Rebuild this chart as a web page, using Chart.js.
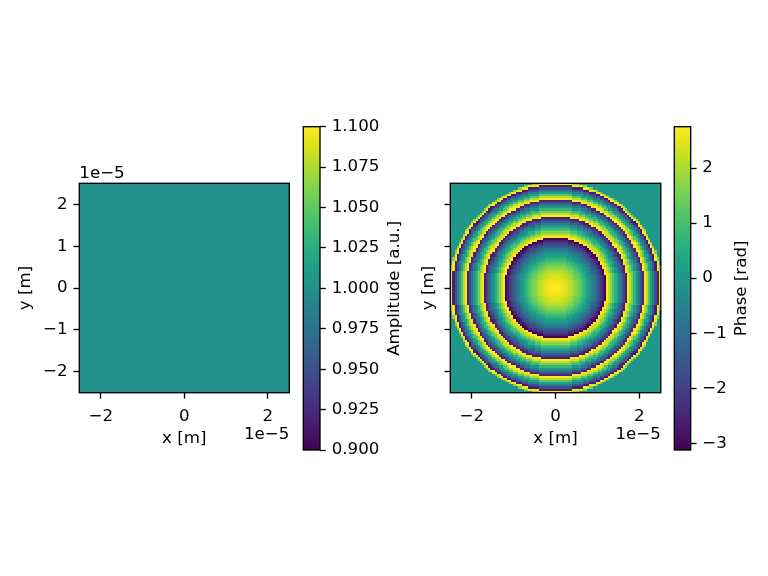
<!DOCTYPE html>
<html><head><meta charset="utf-8">
<script src="https://cdn.jsdelivr.net/npm/chart.js@4.4.1/dist/chart.umd.min.js"></script>
<style>
html,body{margin:0;padding:0;background:#fff;}
#wrap{position:relative;width:768px;height:576px;overflow:hidden;background:#fff;}
#wrap canvas{position:absolute;left:0;top:0;}
</style></head><body>
<div id="wrap">
<canvas id="ampMap" width="768" height="576"></canvas>
<canvas id="ampBar" width="768" height="576"></canvas>
<canvas id="phaseMap" width="768" height="576"></canvas>
<canvas id="phaseBar" width="768" height="576"></canvas>
</div>
<script>
// ---------------- data ----------------
const gridSize = 100;                       // cells per side
const axisLimit = 2.515e-5;                 // axis half-range [m]
const xTickValues = [-2e-5, 0, 2e-5];
const yTickValues = [-2e-5, -1e-5, 0, 1e-5, 2e-5];

const amplitudeLevel = 1.0;                 // uniform amplitude [a.u.]
const amplitudeRange = [0.9, 1.1];
const amplitudeTicks = [0.900, 0.925, 0.950, 0.975, 1.000, 1.025, 1.050, 1.075, 1.100];

const phaseRange = [-3.12, 2.75];
const phaseTicks = [-3, -2, -1, 0, 1, 2];
const apertureRadius = 2.55e-5;             // [m]
const outsidePhase = 0;
// radial phase profile (radius in units of 1e-5 m, phase in rad)
const phaseProfileRadius = [0.00,0.05,0.10,0.15,0.20,0.25,0.30,0.35,0.40,0.45,
  0.50,0.55,0.60,0.65,0.70,0.75,0.80,0.85,0.90,0.95,
  1.00,1.05,1.10,1.15,1.20,1.25,1.30,1.35,1.40,1.45,
  1.50,1.55,1.60,1.65,1.70,1.75,1.80,1.85,1.90,1.95,
  2.00,2.05,2.10,2.15,2.20,2.25,2.30,2.35,2.40,2.45,
  2.50,2.55];
const phaseProfileValue = [2.75,2.74,2.71,2.66,2.59,2.50,2.39,2.26,2.10,1.93,
  1.74,1.53,1.30,1.05,0.77,0.48,0.17,-0.17,-0.52,-0.89,
  -1.29,-1.70,-2.13,-2.59,-3.06,2.73,2.21,1.68,1.12,0.55,
  -0.05,-0.66,-1.30,-1.95,-2.63,2.96,2.25,1.51,0.75,-0.02,
  -0.82,-1.64,-2.48,2.95,2.07,1.17,0.25,-0.68,-1.64,-2.62,
  2.66,1.64];

// ---------------- helpers ----------------
const FONT_FAMILY = "'DejaVu Sans', 'Liberation Sans', sans-serif";
const FONT_SIZE = 16.67;
const VIRIDIS = ['#440154','#471365','#482475','#463480','#414487','#3b528b','#355f8d',
  '#2f6c8e','#2a788e','#25848e','#21918c','#1e9c89','#22a884','#2fb47c','#44bf70',
  '#5ec962','#7ad151','#9bd93c','#bddf26','#dfe318','#fde725'];
const VIR_RGB = VIRIDIS.map(h => [parseInt(h.slice(1,3),16), parseInt(h.slice(3,5),16), parseInt(h.slice(5,7),16)]);
function viridis(t) {
  t = Math.max(0, Math.min(1, t));
  const p = t * (VIR_RGB.length - 1);
  const i = Math.min(Math.floor(p), VIR_RGB.length - 2);
  const f = p - i;
  const a = VIR_RGB[i], b = VIR_RGB[i + 1];
  return 'rgb(' + [0,1,2].map(k => Math.round(a[k] + (b[k] - a[k]) * f)).join(',') + ')';
}
const LUT = Array.from({length: 256}, (_, k) => viridis(k / 255));
function colorFor(v, vmin, vmax) {
  let idx = Math.floor((v - vmin) / (vmax - vmin) * 256);
  idx = Math.max(0, Math.min(255, idx));
  return LUT[idx];
}
function minus(s) { return String(s).replace('-', '\u2212'); }
function fmtE5(v) { return minus(Math.round(v / 1e-5)); }

// ---------------- build cell tables ----------------
const cellSize = 2 * axisLimit / gridSize;
function cellCentre(i) { return -axisLimit + (i + 0.5) * cellSize; }
function phaseAt(x, y) {
  const r = Math.hypot(x, y);
  if (r > apertureRadius) return outsidePhase;
  const rr = r / 1e-5;
  let best = 0, bestD = Infinity;
  for (let k = 0; k < phaseProfileRadius.length; k++) {
    const d = Math.abs(phaseProfileRadius[k] - rr);
    if (d < bestD) { bestD = d; best = k; }
  }
  return phaseProfileValue[best];
}
const amplitudeCells = [], phaseCells = [];
for (let j = 0; j < gridSize; j++) {
  for (let i = 0; i < gridSize; i++) {
    const x = cellCentre(i), y = cellCentre(j);
    amplitudeCells.push({x, y, v: amplitudeLevel});
    phaseCells.push({x, y, v: phaseAt(x, y)});
  }
}

// ---------------- plugins ----------------
function drawText(ctx, text, x, y, align, rotate) {
  ctx.save();
  ctx.font = FONT_SIZE + 'px ' + FONT_FAMILY;
  ctx.fillStyle = '#000';
  ctx.textAlign = align || 'left';
  ctx.textBaseline = 'alphabetic';
  ctx.translate(x, y);
  if (rotate) ctx.rotate(-Math.PI / 2);
  ctx.fillText(text, 0, 0);
  ctx.restore();
}
function heatmapPlugin(cfg) {
  return {
    id: 'heatmap',
    beforeDatasetsDraw(chart) {
      const xs = chart.scales.x, ys = chart.scales.y, ctx = chart.ctx;
      // pixel edges of the cell boundaries, shared by neighbouring cells
      const xEdge = [], yEdge = [];
      for (let k = 0; k <= gridSize; k++) {
        const e = -axisLimit + k * cellSize;
        xEdge.push(Math.round(xs.getPixelForValue(e)));
        yEdge.push(Math.round(ys.getPixelForValue(e)));
      }
      ctx.save();
      for (const p of chart.data.datasets[0].data) {
        const i = Math.round((p.x + axisLimit) / cellSize - 0.5);
        const j = Math.round((p.y + axisLimit) / cellSize - 0.5);
        ctx.fillStyle = colorFor(p.v, cfg.vmin, cfg.vmax);
        ctx.fillRect(xEdge[i], yEdge[j + 1], xEdge[i + 1] - xEdge[i], yEdge[j] - yEdge[j + 1]);
      }
      ctx.restore();
    },
    afterDraw(chart) {
      const a = chart.chartArea, ctx = chart.ctx;
      ctx.save();
      ctx.strokeStyle = '#000'; ctx.lineWidth = 1.33;
      ctx.strokeRect(a.left, a.top, a.right - a.left, a.bottom - a.top);
      ctx.restore();
      const cx = (a.left + a.right) / 2, cy = (a.top + a.bottom) / 2;
      drawText(ctx, 'x [m]', cx, a.bottom + 50, 'center');
      drawText(ctx, '1e\u22125', a.right, a.bottom + 46.5, 'right');
      drawText(ctx, 'y [m]', a.left - cfg.yTitleGap, cy, 'center', true);
      if (cfg.yOffset) drawText(ctx, '1e\u22125', a.left, a.top - 5, 'left');
    }
  };
}
function colorbarPlugin(cfg) {
  return {
    id: 'colorbar',
    beforeDatasetsDraw(chart) {
      const ys = chart.scales.y, a = chart.chartArea, ctx = chart.ctx;
      ctx.save();
      const edges = [];
      for (let k = 0; k <= 256; k++) {
        edges.push(Math.round(ys.getPixelForValue(cfg.vmin + (cfg.vmax - cfg.vmin) * k / 256)));
      }
      for (let k = 0; k < 256; k++) {
        if (edges[k] === edges[k + 1]) continue;
        ctx.fillStyle = LUT[k];
        ctx.fillRect(a.left, edges[k + 1], a.right - a.left, edges[k] - edges[k + 1]);
      }
      ctx.strokeStyle = '#000'; ctx.lineWidth = 1.33;
      ctx.strokeRect(a.left, a.top, a.right - a.left, a.bottom - a.top);
      ctx.restore();
    },
    afterDraw(chart) {
      const a = chart.chartArea;
      drawText(chart.ctx, cfg.title, a.right + cfg.titleGap, (a.top + a.bottom) / 2, 'center', true);
    }
  };
}

// ---------------- chart factories ----------------
Chart.defaults.font.family = FONT_FAMILY;
Chart.defaults.font.size = FONT_SIZE;
Chart.defaults.color = '#000';

const tickGrid = {drawOnChartArea: false, drawTicks: true, tickLength: 5.83, tickWidth: 1.33, tickColor: '#000'};

function heatmapChart(id, cells, vmin, vmax, area, showYLabels, yTitleGap, yOffset) {
  return new Chart(document.getElementById(id), {
    type: 'scatter',
    data: {datasets: [{data: cells, pointRadius: 0, pointHoverRadius: 0, pointHitRadius: 0}]},
    options: {
      animation: false, responsive: false, events: [],
      layout: {padding: {left: area.left - 40, right: 768 - area.right, top: area.top, bottom: 576 - area.bottom - 40}},
      plugins: {legend: {display: false}, tooltip: {enabled: false}},
      scales: {
        x: {
          type: 'linear', position: 'bottom', min: -axisLimit, max: axisLimit,
          afterBuildTicks: s => { s.ticks = xTickValues.map(v => ({value: v})); },
          afterFit: s => { s.height = 40; },
          ticks: {callback: v => fmtE5(v), padding: 8.5, maxRotation: 0, autoSkip: false, color: '#000'},
          grid: tickGrid, border: {display: false}
        },
        y: {
          type: 'linear', position: 'left', min: -axisLimit, max: axisLimit,
          afterBuildTicks: s => { s.ticks = yTickValues.map(v => ({value: v})); },
          afterFit: s => { s.width = 40; },
          ticks: {display: showYLabels, callback: v => fmtE5(v), padding: 5.83, autoSkip: false, color: '#000'},
          grid: tickGrid, border: {display: false}
        }
      }
    },
    plugins: [heatmapPlugin({vmin, vmax, yTitleGap, yOffset})]
  });
}
function colorbarChart(id, range, ticks, fmt, area, title, titleGap) {
  return new Chart(document.getElementById(id), {
    type: 'scatter',
    data: {datasets: [{data: [], pointRadius: 0}]},
    options: {
      animation: false, responsive: false, events: [],
      layout: {padding: {left: area.left, right: 768 - area.right - 60, top: area.top, bottom: 576 - area.bottom}},
      plugins: {legend: {display: false}, tooltip: {enabled: false}},
      scales: {
        x: {display: false, min: 0, max: 1},
        y: {
          type: 'linear', position: 'right', min: range[0], max: range[1],
          afterBuildTicks: s => { s.ticks = ticks.map(v => ({value: v})); },
          afterFit: s => { s.width = 60; },
          ticks: {callback: v => fmt(v), padding: 5.83, autoSkip: false, color: '#000'},
          grid: tickGrid, border: {display: false}
        }
      }
    },
    plugins: [colorbarPlugin({vmin: range[0], vmax: range[1], title, titleGap})]
  });
}

heatmapChart('ampMap', amplitudeCells, amplitudeRange[0], amplitudeRange[1],
  {left: 79.3, right: 289.3, top: 183.3, bottom: 392.7}, true, 49.5, true);
colorbarChart('ampBar', amplitudeRange, amplitudeTicks, v => v.toFixed(3),
  {left: 303.3, right: 320, top: 126.7, bottom: 450}, 'Amplitude [a.u.]', 78.5);
heatmapChart('phaseMap', phaseCells, phaseRange[0], phaseRange[1],
  {left: 450.3, right: 660.8, top: 183.3, bottom: 392.7}, false, 17.8, false);
colorbarChart('phaseBar', phaseRange, phaseTicks, v => minus(v),
  {left: 674.3, right: 690.7, top: 126.7, bottom: 450}, 'Phase [rad]', 55.6);
</script>
</body></html>
